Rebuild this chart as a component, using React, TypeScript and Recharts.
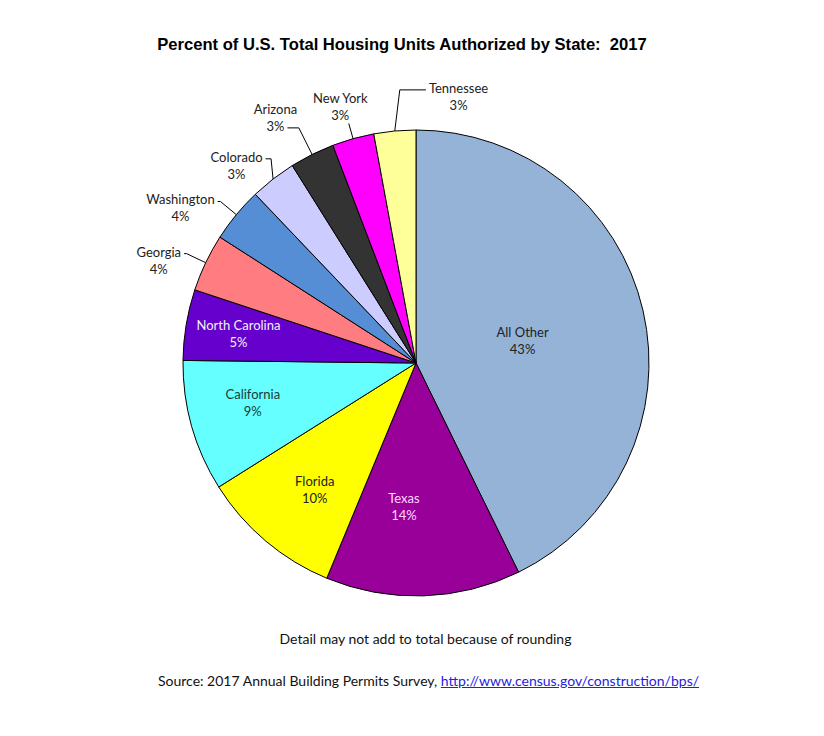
import { PieChart, Pie, Cell } from 'recharts'

// slices clockwise from 12 o'clock
const states = [
  'All Other',
  'Texas',
  'Florida',
  'California',
  'North Carolina',
  'Georgia',
  'Washington',
  'Colorado',
  'Arizona',
  'New York',
  'Tennessee',
]
const shares = [42.7, 13.5, 9.8, 9.1, 4.9, 4.0, 3.8, 3.2, 3.1, 2.9, 2.9]
const sliceColors = [
  '#95B3D7',
  '#990099',
  '#FFFF00',
  '#66FFFF',
  '#6600CC',
  '#FF7C80',
  '#558ED5',
  '#CCCCFF',
  '#333333',
  '#FF00FF',
  '#FFFF99',
]
const labelColors = ['#222', '#FFD9FF', '#222', '#1E3A3A', '#F2F2F2', '#222', '#222', '#222', '#222', '#222', '#222']

const data = states.map((name, i) => ({ name, value: shares[i] }))

const FONT = 'Lato, "Open Sans", sans-serif'
const LABEL_SIZE = 13
const RAD = Math.PI / 180

type Layout = {
  dist: number
  turn: number
  leader?: 'radial' | 'vertical' | 'below'
  row?: 0 | 1
  side?: 'left' | 'right'
  lean?: number
}

// label placement in polar terms (distance from centre, angle offset from slice middle)
const labelLayout: Record<string, Layout> = {
  'All Other': { dist: 109, turn: 1 },
  Texas: { dist: 144, turn: 6.6 },
  Florida: { dist: 162, turn: -1.5 },
  California: { dist: 168, turn: 2 },
  'North Carolina': { dist: 180, turn: 0 },
  Georgia: { dist: 277, turn: -3.7, leader: 'radial', row: 0, side: 'right' },
  Washington: { dist: 282, turn: -6.2, leader: 'radial', row: 0, side: 'right' },
  Colorado: { dist: 267, turn: -4.4, leader: 'vertical', row: 0, side: 'right', lean: -2 },
  Arizona: { dist: 283, turn: -3.3, leader: 'radial', row: 1, side: 'right' },
  'New York': { dist: 267, turn: -0.8, leader: 'below' },
  Tennessee: { dist: 270, turn: 14.3, leader: 'vertical', row: 0, side: 'left', lean: 5 },
}

let ctx: CanvasRenderingContext2D | null = null
function textWidth(s: string) {
  if (!ctx) ctx = document.createElement('canvas').getContext('2d')
  if (!ctx) return s.length * 6.5
  ctx.font = `${LABEL_SIZE}px ${FONT}`
  return ctx.measureText(s).width
}

function renderLabel(props: any) {
  const { cx, cy, midAngle, outerRadius, index } = props
  const name = states[index]
  const pct = Math.round(shares[index]) + '%'
  const lay = labelLayout[name]
  const compass = 90 - midAngle
  const pt = (deg: number, r: number) => ({
    x: cx + r * Math.sin(deg * RAD),
    y: cy - r * Math.cos(deg * RAD),
  })
  const c = pt(compass + lay.turn, lay.dist)
  const y0 = c.y - 8.5
  const y1 = c.y + 8.5

  let leader = null
  if (lay.leader) {
    const e = pt(compass, outerRadius)
    const ux = Math.sin(compass * RAD)
    const uy = -Math.cos(compass * RAD)
    const pts: { x: number; y: number }[] = [e]
    if (lay.leader === 'below') {
      const ly = y1 + 8
      const t = (ly - e.y) / uy
      pts.push({ x: e.x + t * ux, y: ly })
    } else {
      const rowText = lay.row === 1 ? pct : name
      const ly = (lay.row === 1 ? y1 : y0) + 2
      const b =
        lay.leader === 'radial'
          ? { x: e.x + ((ly - e.y) / uy) * ux, y: ly }
          : { x: e.x + (lay.lean || 0), y: ly }
      pts.push(b)
      const half = textWidth(rowText) / 2
      const edge = lay.side === 'right' ? c.x + half + 3 : c.x - half - 3
      pts.push({ x: edge, y: ly })
    }
    leader = (
      <polyline
        points={pts.map((p) => `${p.x},${p.y}`).join(' ')}
        fill='none'
        stroke='#000'
        strokeWidth={1}
      />
    )
  }

  const color = labelColors[index]
  return (
    <g key={`lbl-${index}`}>
      {leader}
      <text
        x={c.x}
        y={y0}
        textAnchor='middle'
        dominantBaseline='central'
        fill={color}
        fontFamily={FONT}
        fontSize={LABEL_SIZE}
      >
        {name}
      </text>
      <text
        x={c.x}
        y={y1}
        textAnchor='middle'
        dominantBaseline='central'
        fill={color}
        fontFamily={FONT}
        fontSize={LABEL_SIZE}
      >
        {pct}
      </text>
    </g>
  )
}

export default function App() {
  return (
    <div style={{ position: 'absolute', left: 0, top: 0, width: 824, height: 736, background: '#fff' }}>
      <div
        style={{
          position: 'absolute',
          left: 0,
          width: 804,
          top: 35,
          textAlign: 'center',
          fontFamily: '"Liberation Sans", Arial, sans-serif',
          fontWeight: 'bold',
          fontSize: 16.6,
          color: '#000',
          whiteSpace: 'pre',
        }}
      >
        {'Percent of U.S. Total Housing Units Authorized by State:  2017'}
      </div>
      <PieChart
        width={824}
        height={736}
        margin={{ top: 0, right: 0, bottom: 0, left: 0 }}
        style={{ position: 'absolute', left: 0, top: 0 }}
      >
        <Pie
          data={data}
          dataKey='value'
          nameKey='name'
          cx={416}
          cy={363}
          outerRadius={233}
          startAngle={90}
          endAngle={-270}
          stroke='#000'
          strokeWidth={1}
          label={renderLabel}
          labelLine={false}
          isAnimationActive={false}
        >
          {data.map((d, i) => (
            <Cell key={d.name} fill={sliceColors[i]} />
          ))}
        </Pie>
      </PieChart>
      <div
        style={{
          position: 'absolute',
          left: 0,
          width: 851,
          top: 630,
          textAlign: 'center',
          fontFamily: FONT,
          fontSize: 14,
          color: '#111',
        }}
      >
        Detail may not add to total because of rounding
      </div>
      <div
        style={{
          position: 'absolute',
          left: 0,
          width: 857,
          top: 672,
          textAlign: 'center',
          fontFamily: FONT,
          fontSize: 14,
          color: '#111',
        }}
      >
        Source: 2017 Annual Building Permits Survey,{' '}
        <span style={{ color: '#2222DD', textDecoration: 'underline' }}>
          http://www.census.gov/construction/bps/
        </span>
      </div>
    </div>
  )
}
